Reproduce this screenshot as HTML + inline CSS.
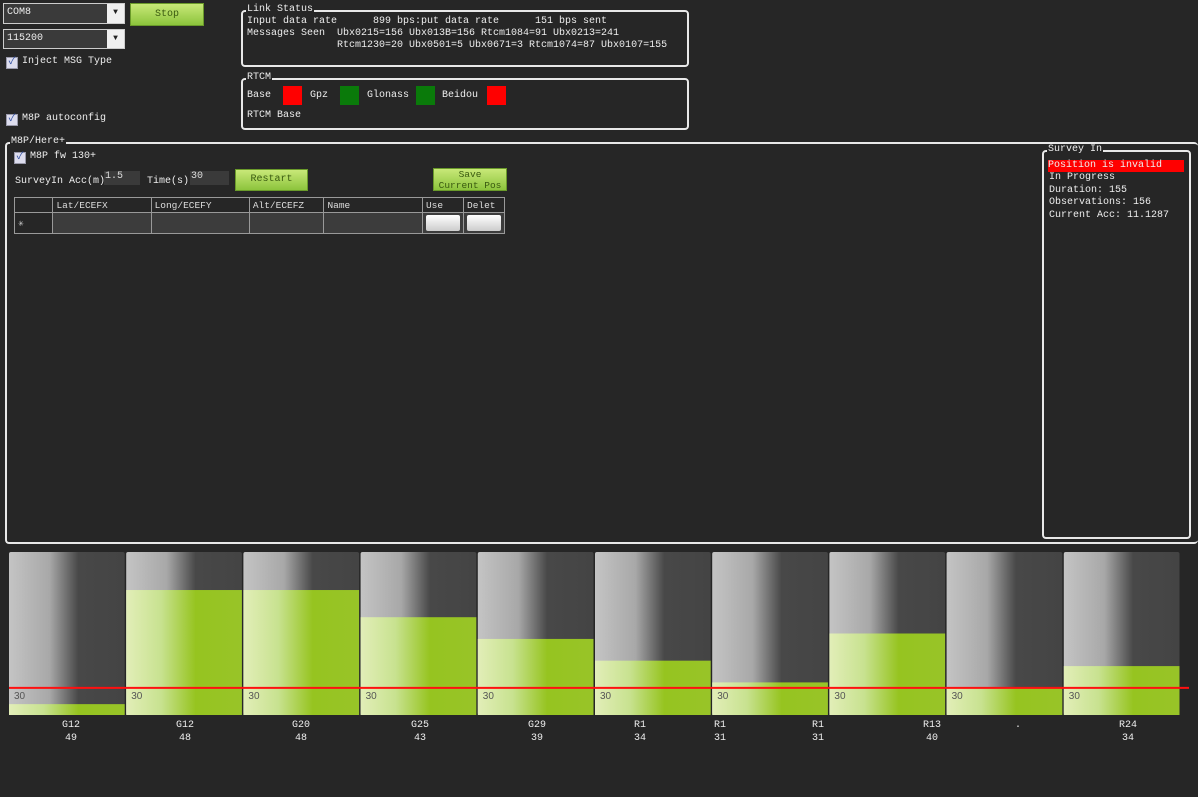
<!DOCTYPE html>
<html><head><meta charset="utf-8">
<style>
body{margin:0;width:1198px;height:797px;background:#262626;overflow:hidden;position:relative;font-family:"Liberation Mono","Noto Sans CJK SC",monospace;font-size:10px;color:#eee}
.a{position:absolute}
.box{position:absolute;border:2px solid #e8e8e8;border-radius:4px}
.title{position:absolute;background:#262626;padding:0 1px;font-size:10px;line-height:11px;color:#eee}
.combo{position:absolute;background:#3a3a3a;border:1px solid #ccc;color:#eee;font-size:10px;line-height:18px;padding-left:3px;box-sizing:border-box}
.combo i{position:absolute;right:0;top:0;width:17px;height:100%;background:#f0f0f0;color:#222;font-style:normal;text-align:center;font-size:8px}
.btn{position:absolute;background:linear-gradient(#c8e878,#8cc43c);border:1px solid #6a9a2a;color:#3a5a10;text-align:center;font-size:10px;box-sizing:border-box}
.chk{position:absolute;width:10px;height:10px;background:#dde;border:1px solid #99a;color:#2a4aa0;font-size:10px;line-height:10px;text-align:center}
.inp{position:absolute;background:#3a3a3a;color:#ddd;font-size:10px;line-height:12px;padding-left:1px}
table{border-collapse:collapse}
td{border:1px solid #999;padding:0 3px;height:14px;font-size:9.5px;color:#ddd}
</style></head><body>
<div class="combo" style="left:3px;top:3px;width:122px;height:21px">COM8<i>▼</i></div>
<div class="combo" style="left:3px;top:29px;width:122px;height:20px">115200<i>▼</i></div>
<div class="btn" style="left:130px;top:3px;width:74px;height:23px;line-height:21px">Stop</div>
<div class="chk" style="left:6px;top:57px">✓</div>
<div class="a" style="left:22px;top:56px">Inject MSG Type</div>
<div class="chk" style="left:6px;top:114px">✓</div>
<div class="a" style="left:22px;top:113px">M8P autoconfig</div>

<div class="box" style="left:241px;top:10px;width:444px;height:53px"></div>
<div class="title" style="left:246px;top:4px">Link Status</div>
<div class="a" style="left:247px;top:16px;white-space:pre;line-height:12px">Input data rate      899 bps:put data rate      151 bps sent
Messages Seen  Ubx0215=156 Ubx013B=156 Rtcm1084=91 Ubx0213=241
               Rtcm1230=20 Ubx0501=5 Ubx0671=3 Rtcm1074=87 Ubx0107=155</div>

<div class="box" style="left:241px;top:78px;width:444px;height:48px"></div>
<div class="title" style="left:246px;top:72px">RTCM</div>
<div class="a" style="left:247px;top:90px">Base</div>
<div class="a" style="left:283px;top:86px;width:19px;height:19px;background:#f00"></div>
<div class="a" style="left:310px;top:90px">Gpz</div>
<div class="a" style="left:340px;top:86px;width:19px;height:19px;background:#0a7a0a"></div>
<div class="a" style="left:367px;top:90px">Glonass</div>
<div class="a" style="left:416px;top:86px;width:19px;height:19px;background:#0a7a0a"></div>
<div class="a" style="left:442px;top:90px">Beidou</div>
<div class="a" style="left:487px;top:86px;width:19px;height:19px;background:#f00"></div>
<div class="a" style="left:247px;top:110px">RTCM Base</div>

<div class="box" style="left:5px;top:142px;width:1191px;height:398px;border-right:none"></div>
<div class="title" style="left:10px;top:136px">M8P/Here+</div>
<div class="chk" style="left:14px;top:152px">✓</div>
<div class="a" style="left:30px;top:151px">M8P fw 130+</div>
<div class="a" style="left:15px;top:176px">SurveyIn Acc(m)</div>
<div class="inp" style="left:104px;top:171px;width:35px;height:14px">1.5</div>
<div class="a" style="left:147px;top:176px">Time(s)</div>
<div class="inp" style="left:190px;top:171px;width:38px;height:14px">30</div>
<div class="btn" style="left:235px;top:169px;width:73px;height:22px;line-height:20px">Restart</div>
<div class="btn" style="left:433px;top:168px;width:74px;height:23px;line-height:11px;font-size:9.5px">Save<br>Current Pos</div>
<table class="a" style="left:14px;top:197px;width:491px">
<tr style="background:#262626"><td style="width:32px"></td><td style="width:92px">Lat/ECEFX</td><td style="width:92px">Long/ECEFY</td><td style="width:68px">Alt/ECEFZ</td><td style="width:93px">Name</td><td style="width:30px">Use</td><td>Delet</td></tr>
<tr style="background:#3c3c3c"><td style="background:#262626;height:20px">✳</td><td></td><td></td><td></td><td></td><td><div style="width:34px;height:16px;background:linear-gradient(#fff,#ccc);border-radius:2px"></div></td><td><div style="width:34px;height:16px;background:linear-gradient(#fff,#ccc);border-radius:2px"></div></td></tr>
</table>

<div class="box" style="left:1042px;top:150px;width:145px;height:385px"></div>
<div class="title" style="left:1047px;top:144px">Survey In</div>
<div class="a" style="left:1048px;top:160px;width:136px;height:12px;background:#f00;line-height:12px">Position is invalid</div>
<div class="a" style="left:1049px;top:172px;line-height:12.5px">In Progress<br>Duration: 155<br>Observations: 156<br>Current Acc: 11.1287</div>

<svg class="a" style="left:0;top:0" width="1198" height="797" id="snr"></svg>
<script>
const levels=[27,48,48,43,39,35,31,40,30,34];
const labelNames=["G12","G12","G20","G25","G29","R1","R1","R1","R13",".","R24"];
const labelValues=["49","48","48","43","39","34","31","31","40","","34"];
const threshold=30;
const yMin=25,yMax=55;
const X0=9,BW=117.2,TOP=552,BOT=715;
const y=v=>BOT-(v-yMin)/(yMax-yMin)*(BOT-TOP);
const svg=document.getElementById('snr');
const NS='http://www.w3.org/2000/svg';
svg.innerHTML='<defs><linearGradient id="gg" x1="0" x2="1"><stop offset="0" stop-color="#c4c4c4"/><stop offset="0.35" stop-color="#a8a8a8"/><stop offset="0.6" stop-color="#484848"/><stop offset="1" stop-color="#444"/></linearGradient><linearGradient id="gr" x1="0" x2="1"><stop offset="0" stop-color="#e2eeb8"/><stop offset="0.3" stop-color="#c8e290"/><stop offset="0.6" stop-color="#96c420"/><stop offset="1" stop-color="#98c428"/></linearGradient></defs>';
function mk(t,a){const e=document.createElementNS(NS,t);for(const k in a)e.setAttribute(k,a[k]);svg.appendChild(e);return e;}
levels.forEach((v,i)=>{
  const x=X0+i*BW;
  const bg=mk('rect',{x:x,y:TOP,width:BW-1.5,height:BOT-TOP,fill:'url(#gg)',rx:2});
  
  
  const g=mk('rect',{x:x,y:y(v),width:BW-1.5,height:BOT-y(v),fill:'url(#gr)'});
  
  
  const t=mk('text',{x:x+5,y:y(threshold)+11,'font-size':10,fill:'#555','font-family':'Liberation Sans, sans-serif'});
  t.textContent=String(threshold);
  
  
});
const ln=mk('line',{x1:X0,x2:1189,y1:y(threshold),y2:y(threshold),stroke:'#ff1010','stroke-width':2});


const labelX=[71,185,301,420,537,640,720,818,932,1018,1128];
labelNames.forEach((n,i)=>{
  const t=mk('text',{x:labelX[i],y:727,'text-anchor':'middle','font-size':10,fill:'#eee','font-family':'Liberation Mono, monospace'});
  t.textContent=n;
  
  
  const t2=mk('text',{x:labelX[i],y:740,'text-anchor':'middle','font-size':10,fill:'#eee','font-family':'Liberation Mono, monospace'});
  t2.textContent=labelValues[i];
  
  
});
</script>
</body></html>
